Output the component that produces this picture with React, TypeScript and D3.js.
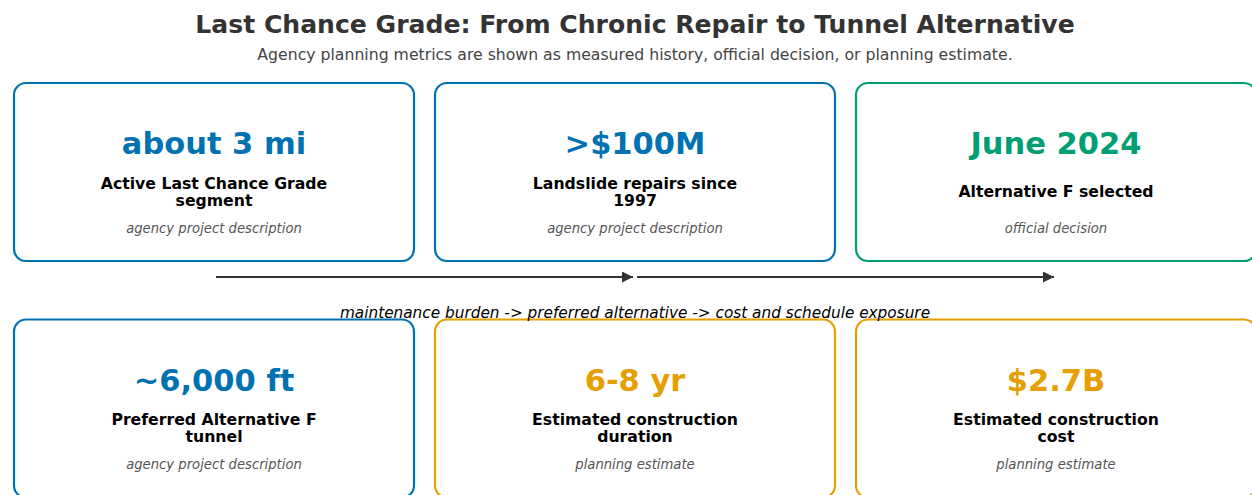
import React from "react";
import * as d3 from "d3";

const titleText = "Last Chance Grade: From Chronic Repair to Tunnel Alternative";
const subtitleText = "Agency planning metrics are shown as measured history, official decision, or planning estimate.";
const captionText = "maintenance burden -> preferred alternative -> cost and schedule exposure";

const cardValues = ["about 3 mi", ">$100M", "June 2024", "~6,000 ft", "6-8 yr", "$2.7B"];
const cardLabels = [
  ["Active Last Chance Grade", "segment"],
  ["Landslide repairs since", "1997"],
  ["Alternative F selected"],
  ["Preferred Alternative F", "tunnel"],
  ["Estimated construction", "duration"],
  ["Estimated construction", "cost"],
];
const cardSources = [
  "agency project description",
  "agency project description",
  "official decision",
  "agency project description",
  "planning estimate",
  "planning estimate",
];
const cardKinds = ["measured", "measured", "decision", "measured", "estimate", "estimate"];
const kindColors: Record<string, string> = {
  measured: "#0072B2",
  decision: "#009E73",
  estimate: "#E69F00",
};

const W = 1252;
const H = 495;
const FONT = "DejaVu Sans, sans-serif";

export default function App() {
  const cols = d3.scaleLinear().domain([0, 1, 2]).range([14, 435, 856]);
  const rows = d3.scaleLinear().domain([0, 1]).range([83, 319.5]);
  const cardW = 400;
  const cardH = 178;

  const arrows = [
    [0, 1],
    [1, 2],
  ];

  return (
    <div style={{ position: "fixed", left: 0, top: 0, width: W, height: H, overflow: "hidden", background: "#fff" }}>
      <svg width={W} height={H} style={{ display: "block" }} fontFamily={FONT}>
        <defs>
          <marker id="ah" viewBox="0 0 10 10" refX="10" refY="5" markerWidth="11" markerHeight="11" markerUnits="userSpaceOnUse" orient="auto">
            <path d="M0,0 L10,5 L0,10 Z" fill="#333" />
          </marker>
        </defs>
        <text x={635} y={33} textAnchor="middle" fontSize={25.1} fontWeight="bold" fill="#333">
          {titleText}
        </text>
        <text x={635} y={59.5} textAnchor="middle" fontSize={15.7} fill="#444">
          {subtitleText}
        </text>
        {cardValues.map((v, i) => {
          const c = i % 3;
          const r = Math.floor(i / 3);
          const x = cols(c);
          const y = rows(r);
          const cx = x + cardW / 2;
          const color = kindColors[cardKinds[i]];
          const lab = cardLabels[i];
          const labY = lab.length === 1 ? y + 113.5 : y + 105.5;
          return (
            <g key={i}>
              <rect x={x} y={y} width={cardW} height={cardH} rx={12} ry={12} fill="#fff" stroke={color} strokeWidth={2.2} />
              <text x={cx} y={y + 71} textAnchor="middle" fontSize={30.5} fontWeight="bold" fill={color}>
                {v}
              </text>
              {lab.map((l, j) => (
                <text key={j} x={cx} y={labY + j * 17} textAnchor="middle" fontSize={15.7} fontWeight="bold" fill="#000">
                  {l}
                </text>
              ))}
              <text x={cx} y={y + 149.5} textAnchor="middle" fontSize={13.2} fontStyle="italic" fill="#555">
                {cardSources[i]}
              </text>
            </g>
          );
        })}
        {arrows.map(([a, b], i) => (
          <line
            key={i}
            x1={cols(a) + cardW / 2 + 2}
            x2={cols(b) + cardW / 2 - 2}
            y1={277}
            y2={277}
            stroke="#333"
            strokeWidth={2}
            markerEnd="url(#ah)"
          />
        ))}
        <text x={635} y={318} textAnchor="middle" fontSize={15.3} fontStyle="italic" fill="#000">
          {captionText}
        </text>
      </svg>
    </div>
  );
}
